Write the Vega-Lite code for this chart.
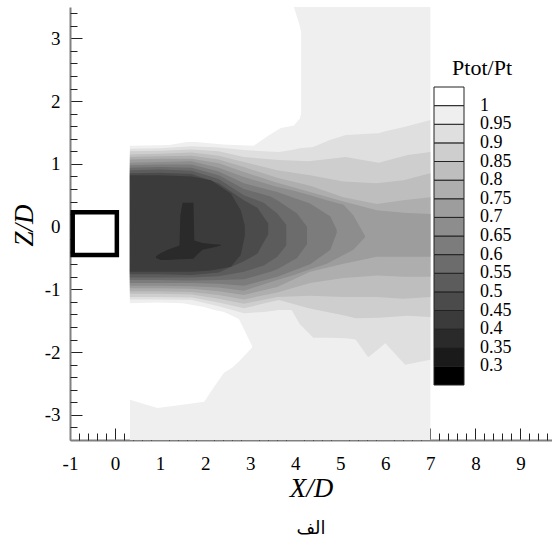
{
"$schema": "https://vega.github.io/schema/vega-lite/v6.json",
"width": 482, "height": 433,
"autosize": "none",
"padding": {"left": 70, "top": 7, "right": 0, "bottom": 104},
"background": "white",
"title": {"text": "الف", "orient": "bottom", "anchor": "middle", "frame": "group", "font": "DejaVu Sans", "fontSize": 18, "fontWeight": "normal", "color": "black", "offset": 19},
"config": {"view": {"stroke": null}, "axis": {"grid": false, "zindex": 1}},
"resolve": {"axis": {"x": "independent", "y": "independent"}},
"layer": [
{
"data": {"values": [
{"g":"b","v":0.975,"x":0.33,"lo":-3.4,"hi":3.5},{"g":"b","v":0.975,"x":7.0,"lo":-3.4,"hi":3.5},
{"g":"wt","v":1.02,"x":0.33,"lo":1.29,"hi":3.5},{"g":"wt","v":1.02,"x":1.2,"lo":1.3,"hi":3.5},{"g":"wt","v":1.02,"x":1.6,"lo":1.35,"hi":3.5},{"g":"wt","v":1.02,"x":1.8,"lo":1.35,"hi":3.5},{"g":"wt","v":1.02,"x":2.4,"lo":1.31,"hi":3.5},{"g":"wt","v":1.02,"x":3.08,"lo":1.29,"hi":3.5},{"g":"wt","v":1.02,"x":3.4,"lo":1.45,"hi":3.5},{"g":"wt","v":1.02,"x":3.68,"lo":1.57,"hi":3.5},{"g":"wt","v":1.02,"x":3.97,"lo":1.61,"hi":3.5},{"g":"wt","v":1.02,"x":4.1,"lo":1.72,"hi":3.2},{"g":"wt","v":1.02,"x":4.13,"lo":1.8,"hi":3.1},
{"g":"wb","v":1.02,"x":0.33,"lo":-2.76,"hi":-1.22},{"g":"wb","v":1.02,"x":0.94,"lo":-2.89,"hi":-1.21},{"g":"wb","v":1.02,"x":1.5,"lo":-2.84,"hi":-1.22},{"g":"wb","v":1.02,"x":1.98,"lo":-2.79,"hi":-1.28},{"g":"wb","v":1.02,"x":2.2,"lo":-2.55,"hi":-1.33},{"g":"wb","v":1.02,"x":2.42,"lo":-2.33,"hi":-1.36},{"g":"wb","v":1.02,"x":2.6,"lo":-2.25,"hi":-1.42},{"g":"wb","v":1.02,"x":2.75,"lo":-2.15,"hi":-1.47},{"g":"wb","v":1.02,"x":3.04,"lo":-1.93,"hi":-1.9},
{"g":"95","v":0.925,"x":0.33,"lo":-1.16,"hi":1.24},{"g":"95","v":0.925,"x":1.0,"lo":-1.16,"hi":1.25},{"g":"95","v":0.925,"x":1.7,"lo":-1.17,"hi":1.28},{"g":"95","v":0.925,"x":2.3,"lo":-1.27,"hi":1.26},{"g":"95","v":0.925,"x":2.86,"lo":-1.38,"hi":1.22},{"g":"95","v":0.925,"x":3.3,"lo":-1.36,"hi":1.2},{"g":"95","v":0.925,"x":3.64,"lo":-1.33,"hi":1.19},{"g":"95","v":0.925,"x":3.92,"lo":-1.33,"hi":1.22},{"g":"95","v":0.925,"x":4.1,"lo":-1.55,"hi":1.25},{"g":"95","v":0.925,"x":4.4,"lo":-1.77,"hi":1.27},{"g":"95","v":0.925,"x":4.77,"lo":-1.77,"hi":1.38},{"g":"95","v":0.925,"x":5.12,"lo":-1.78,"hi":1.46},{"g":"95","v":0.925,"x":5.34,"lo":-1.8,"hi":1.47},{"g":"95","v":0.925,"x":5.62,"lo":-2.08,"hi":1.48},{"g":"95","v":0.925,"x":5.85,"lo":-1.95,"hi":1.49},{"g":"95","v":0.925,"x":6.0,"lo":-1.86,"hi":1.52},{"g":"95","v":0.925,"x":6.44,"lo":-2.2,"hi":1.59},{"g":"95","v":0.925,"x":7.0,"lo":-2.12,"hi":1.7},
{"g":"90","v":0.875,"x":0.33,"lo":-1.12,"hi":1.2},{"g":"90","v":0.875,"x":1.0,"lo":-1.12,"hi":1.21},{"g":"90","v":0.875,"x":1.7,"lo":-1.13,"hi":1.23},{"g":"90","v":0.875,"x":2.3,"lo":-1.21,"hi":1.2},{"g":"90","v":0.875,"x":2.86,"lo":-1.3,"hi":1.11},{"g":"90","v":0.875,"x":3.64,"lo":-1.17,"hi":1.06},{"g":"90","v":0.875,"x":4.3,"lo":-1.3,"hi":1.04},{"g":"90","v":0.875,"x":5.12,"lo":-1.42,"hi":1.11},{"g":"90","v":0.875,"x":5.34,"lo":-1.46,"hi":1.08},{"g":"90","v":0.875,"x":5.85,"lo":-1.45,"hi":1.02},{"g":"90","v":0.875,"x":6.5,"lo":-1.42,"hi":1.14},{"g":"90","v":0.875,"x":7.0,"lo":-1.44,"hi":1.19},
{"g":"85","v":0.825,"x":0.33,"lo":-1.07,"hi":1.15},{"g":"85","v":0.825,"x":1.0,"lo":-1.07,"hi":1.16},{"g":"85","v":0.825,"x":1.7,"lo":-1.08,"hi":1.18},{"g":"85","v":0.825,"x":2.3,"lo":-1.15,"hi":1.13},{"g":"85","v":0.825,"x":2.86,"lo":-1.23,"hi":1.03},{"g":"85","v":0.825,"x":3.6,"lo":-1.12,"hi":0.9},{"g":"85","v":0.825,"x":4.33,"lo":-1.1,"hi":0.82},{"g":"85","v":0.825,"x":5.07,"lo":-1.12,"hi":0.72},{"g":"85","v":0.825,"x":5.81,"lo":-1.12,"hi":0.69},{"g":"85","v":0.825,"x":6.4,"lo":-1.15,"hi":0.74},{"g":"85","v":0.825,"x":7.0,"lo":-1.12,"hi":0.85},
{"g":"80","v":0.775,"x":0.33,"lo":-1.03,"hi":1.11},{"g":"80","v":0.775,"x":1.0,"lo":-1.03,"hi":1.12},{"g":"80","v":0.775,"x":1.7,"lo":-1.04,"hi":1.13},{"g":"80","v":0.775,"x":2.3,"lo":-1.09,"hi":1.07},{"g":"80","v":0.775,"x":2.86,"lo":-1.16,"hi":0.95},{"g":"80","v":0.775,"x":3.6,"lo":-1.05,"hi":0.78},{"g":"80","v":0.775,"x":4.33,"lo":-0.9,"hi":0.65},{"g":"80","v":0.775,"x":5.07,"lo":-0.82,"hi":0.47},{"g":"80","v":0.775,"x":5.81,"lo":-0.78,"hi":0.36},{"g":"80","v":0.775,"x":6.4,"lo":-0.8,"hi":0.42},{"g":"80","v":0.775,"x":7.0,"lo":-0.8,"hi":0.47},
{"g":"75","v":0.725,"x":0.33,"lo":-0.98,"hi":1.07},{"g":"75","v":0.725,"x":1.0,"lo":-0.98,"hi":1.08},{"g":"75","v":0.725,"x":1.7,"lo":-0.99,"hi":1.08},{"g":"75","v":0.725,"x":2.3,"lo":-1.03,"hi":1.01},{"g":"75","v":0.725,"x":2.86,"lo":-1.09,"hi":0.87},{"g":"75","v":0.725,"x":3.6,"lo":-0.96,"hi":0.7},{"g":"75","v":0.725,"x":4.33,"lo":-0.72,"hi":0.55},{"g":"75","v":0.725,"x":5.07,"lo":-0.59,"hi":0.4},{"g":"75","v":0.725,"x":5.81,"lo":-0.48,"hi":0.26},{"g":"75","v":0.725,"x":6.4,"lo":-0.48,"hi":0.22},{"g":"75","v":0.725,"x":7.0,"lo":-0.48,"hi":0.2},
{"g":"70","v":0.675,"x":0.33,"lo":-0.94,"hi":1.02},{"g":"70","v":0.675,"x":1.0,"lo":-0.94,"hi":1.03},{"g":"70","v":0.675,"x":1.7,"lo":-0.95,"hi":1.04},{"g":"70","v":0.675,"x":2.3,"lo":-0.97,"hi":0.94},{"g":"70","v":0.675,"x":2.86,"lo":-1.02,"hi":0.79},{"g":"70","v":0.675,"x":3.6,"lo":-0.85,"hi":0.63},{"g":"70","v":0.675,"x":3.97,"lo":-0.77,"hi":0.57},{"g":"70","v":0.675,"x":4.33,"lo":-0.68,"hi":0.5},{"g":"70","v":0.675,"x":4.7,"lo":-0.59,"hi":0.42},{"g":"70","v":0.675,"x":5.07,"lo":-0.45,"hi":0.35},{"g":"70","v":0.675,"x":5.29,"lo":-0.37,"hi":0.18},{"g":"70","v":0.675,"x":5.55,"lo":-0.17,"hi":-0.15},
{"g":"65","v":0.625,"x":0.33,"lo":-0.9,"hi":0.98},{"g":"65","v":0.625,"x":1.0,"lo":-0.9,"hi":0.99},{"g":"65","v":0.625,"x":1.7,"lo":-0.9,"hi":0.99},{"g":"65","v":0.625,"x":2.3,"lo":-0.91,"hi":0.88},{"g":"65","v":0.625,"x":2.86,"lo":-0.94,"hi":0.69},{"g":"65","v":0.625,"x":3.6,"lo":-0.8,"hi":0.55},{"g":"65","v":0.625,"x":4.33,"lo":-0.6,"hi":0.37},{"g":"65","v":0.625,"x":4.78,"lo":-0.37,"hi":0.16},{"g":"65","v":0.625,"x":4.92,"lo":-0.1,"hi":-0.05},
{"g":"60","v":0.575,"x":0.33,"lo":-0.85,"hi":0.94},{"g":"60","v":0.575,"x":1.0,"lo":-0.85,"hi":0.95},{"g":"60","v":0.575,"x":1.7,"lo":-0.86,"hi":0.94},{"g":"60","v":0.575,"x":2.3,"lo":-0.85,"hi":0.82},{"g":"60","v":0.575,"x":2.86,"lo":-0.84,"hi":0.6},{"g":"60","v":0.575,"x":3.45,"lo":-0.72,"hi":0.48},{"g":"60","v":0.575,"x":3.6,"lo":-0.68,"hi":0.42},{"g":"60","v":0.575,"x":4.04,"lo":-0.5,"hi":0.21},{"g":"60","v":0.575,"x":4.26,"lo":-0.28,"hi":0.0},
{"g":"55","v":0.525,"x":0.33,"lo":-0.81,"hi":0.9},{"g":"55","v":0.525,"x":1.0,"lo":-0.81,"hi":0.91},{"g":"55","v":0.525,"x":1.7,"lo":-0.81,"hi":0.89},{"g":"55","v":0.525,"x":2.3,"lo":-0.79,"hi":0.76},{"g":"55","v":0.525,"x":2.86,"lo":-0.72,"hi":0.5},{"g":"55","v":0.525,"x":3.3,"lo":-0.62,"hi":0.38},{"g":"55","v":0.525,"x":3.6,"lo":-0.48,"hi":0.21},{"g":"55","v":0.525,"x":3.8,"lo":-0.3,"hi":0.03},
{"g":"50","v":0.475,"x":0.33,"lo":-0.76,"hi":0.85},{"g":"50","v":0.475,"x":1.0,"lo":-0.76,"hi":0.86},{"g":"50","v":0.475,"x":1.7,"lo":-0.77,"hi":0.84},{"g":"50","v":0.475,"x":2.3,"lo":-0.73,"hi":0.69},{"g":"50","v":0.475,"x":2.86,"lo":-0.55,"hi":0.42},{"g":"50","v":0.475,"x":3.16,"lo":-0.43,"hi":0.3},{"g":"50","v":0.475,"x":3.4,"lo":-0.12,"hi":0.05},
{"g":"45","v":0.425,"x":0.33,"lo":-0.72,"hi":0.82},{"g":"45","v":0.425,"x":1.0,"lo":-0.72,"hi":0.82},{"g":"45","v":0.425,"x":1.7,"lo":-0.72,"hi":0.8},{"g":"45","v":0.425,"x":2.13,"lo":-0.7,"hi":0.74},{"g":"45","v":0.425,"x":2.57,"lo":-0.64,"hi":0.53},{"g":"45","v":0.425,"x":2.79,"lo":-0.45,"hi":0.26},{"g":"45","v":0.425,"x":2.88,"lo":-0.15,"hi":0.02},
{"g":"40","v":0.375,"x":0.91,"lo":-0.5,"hi":-0.47},{"g":"40","v":0.375,"x":1.02,"lo":-0.53,"hi":-0.42},{"g":"40","v":0.375,"x":1.17,"lo":-0.53,"hi":-0.37},{"g":"40","v":0.375,"x":1.43,"lo":-0.52,"hi":-0.3},{"g":"40","v":0.375,"x":1.45,"lo":-0.52,"hi":0.18},{"g":"40","v":0.375,"x":1.5,"lo":-0.52,"hi":0.38},{"g":"40","v":0.375,"x":1.74,"lo":-0.51,"hi":0.38},{"g":"40","v":0.375,"x":1.76,"lo":-0.49,"hi":-0.22},{"g":"40","v":0.375,"x":1.94,"lo":-0.37,"hi":-0.26},{"g":"40","v":0.375,"x":2.2,"lo":-0.33,"hi":-0.28},{"g":"40","v":0.375,"x":2.35,"lo":-0.3,"hi":-0.29}
]},
"mark": {"type": "area", "interpolate": "linear"},
"encoding": {
 "x": {"field": "x", "type": "quantitative", "scale": {"domain": [-1, 9.7], "nice": false, "zero": false},
   "axis": {"orient": "bottom", "values": [-1,0,1,2,3,4,5,6,7,8,9], "title": "X/D", "titleFont": "Liberation Serif", "titleFontSize": 27, "titleFontStyle": "italic", "titleFontWeight": "normal", "titleColor": "black", "titleBaseline": "alphabetic", "titleY": 56,
     "labelFont": "Liberation Serif", "labelFontSize": 19, "labelColor": "black", "labelExpr": "'' + datum.value", "labelFlush": false, "labelOverlap": false, "labelPadding": 26, "tickSize": -12, "tickColor": "#222222", "tickWidth": 1, "domainColor": "#808080", "domainWidth": 2, "grid": false}},
 "y": {"field": "lo", "type": "quantitative", "stack": null, "scale": {"domain": [-3.4, 3.5], "nice": false, "zero": false},
   "axis": {"orient": "left", "values": [-3,-2,-1,0,1,2,3], "title": "Z/D", "titleFont": "Liberation Serif", "titleFontSize": 27, "titleFontStyle": "italic", "titleFontWeight": "normal", "titleColor": "black", "titleBaseline": "alphabetic", "titleX": -38, "titleY": 218, "titleAngle": -90,
     "labelFont": "Liberation Serif", "labelFontSize": 19, "labelColor": "black", "labelExpr": "'' + datum.value", "labelFlush": false, "labelOverlap": false, "labelPadding": 22, "tickSize": -12, "tickColor": "#222222", "tickWidth": 1, "domainColor": "#808080", "domainWidth": 2, "grid": false}},
 "y2": {"field": "hi"},
 "detail": {"field": "g"},
 "color": {"field": "v", "type": "quantitative",
   "scale": {"type": "threshold", "domain": [0.3,0.35,0.4,0.45,0.5,0.55,0.6,0.65,0.7,0.75,0.8,0.85,0.9,0.95,1],
     "range": ["#000000","#1a1a1a","#2a2a2a","#3b3b3b","#4b4b4b","#5c5c5c","#6c6c6c","#7c7c7c","#8d8d8d","#9d9d9d","#aeaeae","#bebebe","#cecece","#dfdfdf","#efefef","#ffffff"]},
   "legend": {"type": "gradient", "orient": "none", "legendX": 364, "legendY": 51, "direction": "vertical", "title": "Ptot/Pt", "titleFont": "Liberation Serif", "titleFontSize": 22, "titleFontWeight": "normal", "titleColor": "black", "titleAnchor": "end", "titlePadding": 7,
     "gradientLength": 298, "gradientThickness": 30, "labelFont": "Liberation Serif", "labelFontSize": 18, "labelColor": "black", "labelOffset": 16, "labelBaseline": "middle", "labelOverlap": false,
     "labelExpr": "datum.value > 0 && datum.value < 2 ? '' + datum.value : ''", "padding": 0,
     "encode": {"gradient": {"update": {"stroke": {"value": "#222222"}, "strokeWidth": {"value": 1}}}}}}
}
},
{
"data": {"values": [{"x0": -0.94, "x1": 0.04, "z0": -0.45, "z1": 0.23}]},
"mark": {"type": "rect", "fill": "white", "stroke": "black", "strokeWidth": 4.5},
"encoding": {
 "x": {"field": "x0", "type": "quantitative", "scale": {"domain": [-1, 9.7], "nice": false, "zero": false},
   "axis": {"orient": "bottom", "values": [-0.8,-0.6,-0.4,-0.2,0.2,0.4,0.6,0.8,1.2,1.4,1.6,1.8,2.2,2.4,2.6,2.8,3.2,3.4,3.6,3.8,4.2,4.4,4.6,4.8,5.2,5.4,5.6,5.8,6.2,6.4,6.6,6.8,7.2,7.4,7.6,7.8,8.2,8.4,8.6,8.8,9.2,9.4,9.6], "labels": false, "title": null, "domain": false, "tickSize": -7, "tickColor": "#222222", "tickWidth": 1, "grid": false}},
 "x2": {"field": "x1"},
 "y": {"field": "z0", "type": "quantitative", "scale": {"domain": [-3.4, 3.5], "nice": false, "zero": false},
   "axis": {"orient": "left", "values": [-3.2,-2.8,-2.6,-2.4,-2.2,-1.8,-1.6,-1.4,-1.2,-0.8,-0.6,-0.4,-0.2,0.2,0.4,0.6,0.8,1.2,1.4,1.6,1.8,2.2,2.4,2.6,2.8,3.2,3.4], "labels": false, "title": null, "domain": false, "tickSize": -7, "tickColor": "#222222", "tickWidth": 1, "grid": false}},
 "y2": {"field": "z1"}
}
}
]
}
